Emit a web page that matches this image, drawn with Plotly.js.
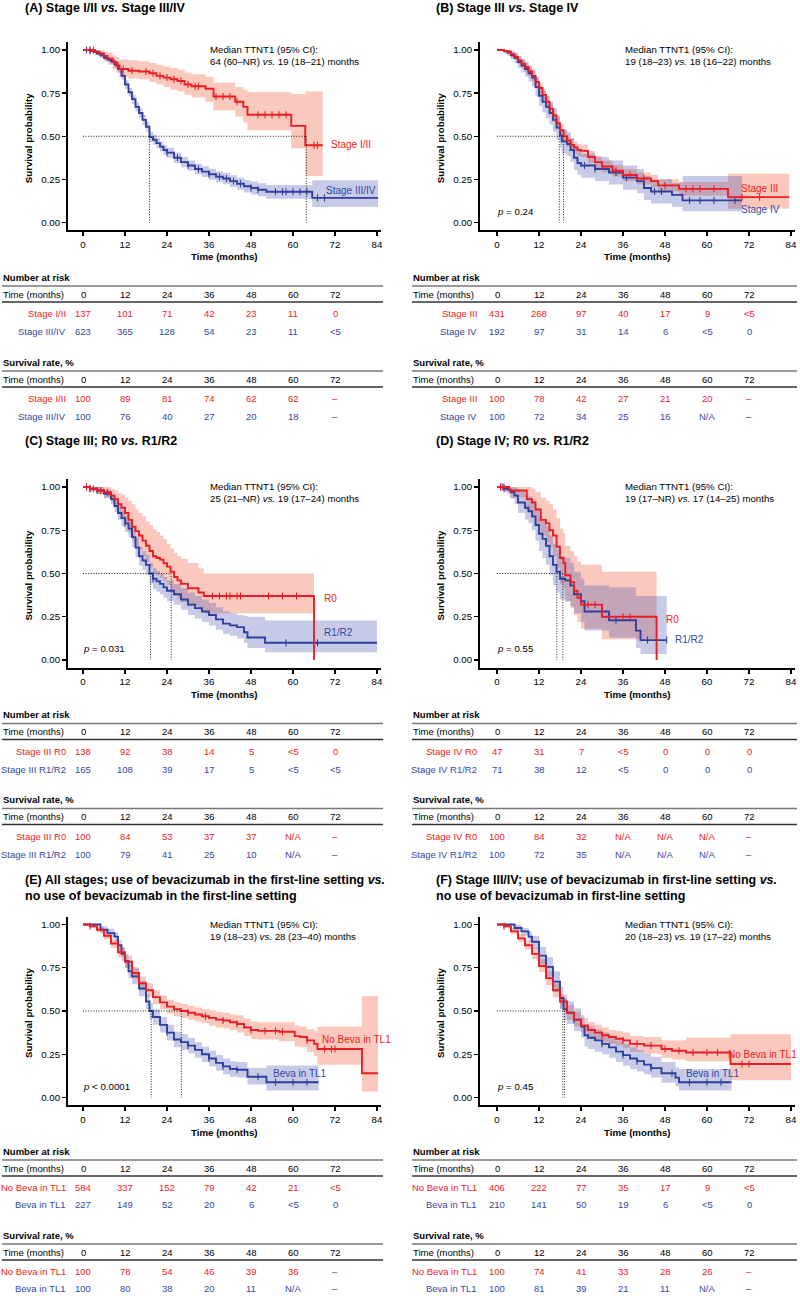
<!DOCTYPE html>
<html><head><meta charset="utf-8">
<script src="https://cdn.plot.ly/plotly-3.0.1.min.js"></script>
<style>html,body{margin:0;padding:0;background:#fff}#chart{width:800px;height:1296px}</style>
</head><body><div id="chart"></div>
<script>
// ---------------- DATA ----------------
const timeTicks = [0, 12, 24, 36, 48, 60, 72];

// Panel A
const A_red_t  = [0,3.4,4.7,6,7,8.5,9.5,10.4,13,16,19,21,23,25,27,29,31,35,37.3,43.5,45.8,47,59.5,63.5,68.5];
const A_red_s  = [1,.99,.98,.965,.95,.93,.91,.89,.88,.875,.865,.85,.84,.83,.82,.80,.79,.775,.73,.70,.67,.625,.56,.448,.448];
const A_red_lo = [1,.97,.955,.935,.915,.89,.87,.845,.835,.83,.815,.80,.785,.77,.76,.74,.725,.70,.65,.615,.58,.535,.43,.27,.27];
const A_red_hi = [1,1,1,.99,.985,.97,.96,.945,.94,.935,.925,.915,.905,.895,.885,.87,.86,.845,.81,.785,.77,.755,.745,.76,.76];
const A_red_cens = [2,3,10,11.5,14,18,20,22,24,26,28,30,32,33,38,40,42,44,50,52,54,56,58,66,67];
const A_blue_t  = [0,1,2,3,4,5,6,7,8,9,10,11,12,13,14,15,16,17,18,19,20,21,22,23,24,26,28,30,32,34,36,38,40,42,44,46,48,50,52.4,65.5,84.3];
const A_blue_s  = [1,1,.995,.99,.98,.97,.955,.945,.935,.915,.89,.85,.80,.755,.715,.67,.635,.595,.555,.495,.48,.46,.44,.42,.405,.375,.35,.33,.31,.295,.28,.265,.255,.24,.225,.21,.20,.19,.178,.143,.143];
const A_blue_lo = [1,1,.99,.982,.97,.958,.942,.93,.918,.896,.869,.827,.776,.73,.689,.643,.607,.566,.526,.466,.451,.431,.411,.391,.376,.345,.32,.30,.28,.264,.248,.233,.222,.206,.19,.174,.163,.152,.138,.09,.09];
const A_blue_hi = [1,1,1,.998,.99,.982,.968,.96,.952,.934,.911,.873,.824,.78,.741,.697,.663,.624,.584,.524,.509,.489,.469,.449,.434,.405,.38,.36,.34,.326,.312,.297,.288,.274,.26,.246,.237,.228,.218,.245,.245];
const A_blue_cens = [1,2,24,27,30,33,36,39,41,43,45,48,50,55,57,58,60,62,64,67,69];
const A_medians = [63.8, 19.0];
const A_risk_red = [137,101,71,42,23,11,0];
const A_risk_blue = [623,365,128,54,23,11,'<5'];
const A_surv_red = [100,89,81,74,62,62,'–'];
const A_surv_blue = [100,76,40,27,20,18,'–'];

// Panel B
const B_red_t  = [0,2,3,4,5,6,7,8,9,10,11,12,13,14,15,16,17,18,19,20,21,22,23,24,26,28,30,33,36,40,44,46,52,66,83.5];
const B_red_s  = [1,.995,.99,.975,.96,.94,.92,.90,.875,.85,.815,.78,.74,.70,.66,.62,.575,.535,.50,.475,.45,.435,.42,.415,.38,.35,.325,.30,.275,.255,.24,.215,.195,.147,.147];
const B_red_lo = [1,.985,.975,.96,.94,.918,.897,.875,.848,.82,.784,.748,.707,.667,.626,.585,.54,.50,.465,.44,.415,.40,.385,.38,.345,.315,.29,.265,.24,.22,.205,.18,.155,.08,.08];
const B_red_hi = [1,1,1,.99,.978,.962,.943,.925,.902,.88,.846,.812,.773,.733,.694,.655,.61,.57,.535,.51,.485,.47,.455,.45,.415,.385,.36,.335,.31,.29,.275,.25,.235,.283,.283];
const B_red_cens = [30,34,38,42,48,54,56,58,62,70,75];
const B_blue_t  = [0,2,3,4,5,6,7,8,9,10,11,12,13,14,15,16,17,18,18.5,20,21,22,23,24,28,32,36,40,42,44,50,53,70];
const B_blue_s  = [1,.995,.985,.97,.955,.93,.91,.89,.865,.84,.785,.735,.70,.67,.635,.595,.55,.505,.47,.455,.42,.375,.345,.33,.31,.29,.26,.24,.20,.18,.16,.128,.128];
const B_blue_lo = [1,.98,.965,.945,.925,.895,.87,.845,.817,.79,.73,.675,.638,.605,.568,.525,.48,.435,.40,.385,.35,.305,.275,.26,.24,.22,.19,.17,.13,.11,.09,.065,.065];
const B_blue_hi = [1,1,1,.995,.985,.965,.95,.935,.913,.89,.84,.795,.762,.735,.702,.665,.62,.575,.54,.525,.49,.445,.415,.40,.38,.36,.33,.31,.27,.25,.23,.27,.27];
const B_blue_cens = [25,28,34,37,45,47,55,58,62,68];
const B_medians = [17.8, 19.0];
const B_risk_red = [431,268,97,40,17,9,'<5'];
const B_risk_blue = [192,97,31,14,6,'<5',0];
const B_surv_red = [100,78,42,27,21,20,'–'];
const B_surv_blue = [100,72,34,25,16,'N/A','–'];

// Panel C
const C_red_t  = [0,2,4,6,8,9,10,11,12,13,14,15,16,17,18,19,20,21,22,23,24,25,26,27,28,30,33,34.5,66];
const C_red_s  = [1,.99,.98,.97,.95,.93,.90,.88,.85,.81,.77,.745,.72,.69,.66,.63,.60,.59,.58,.56,.54,.51,.48,.46,.44,.415,.39,.37,0];
const C_red_lo = [1,.98,.96,.94,.91,.88,.84,.815,.78,.735,.69,.66,.635,.60,.565,.535,.50,.49,.475,.455,.435,.405,.375,.355,.335,.31,.29,.27,.27];
const C_red_hi = [1,1,1,1,.99,.98,.965,.955,.94,.92,.90,.87,.85,.83,.80,.78,.755,.74,.72,.70,.67,.645,.62,.60,.585,.56,.53,.50,.50];
const C_red_cens = [1,2,3,5,7,37,39,41,42,44,45,53,57,61];
const C_blue_t  = [0,2,4,6,8,9,10,11,12,13,14,15,16,17,18,19,20,21,22,23,24,26,28,30,32,34,36,38,40,42,44,46,47,52,84];
const C_blue_s  = [1,.99,.98,.96,.93,.89,.85,.82,.79,.76,.71,.65,.60,.575,.55,.50,.47,.455,.44,.42,.40,.38,.35,.32,.30,.28,.26,.235,.21,.20,.19,.16,.13,.10,.10];
const C_blue_lo = [1,.975,.96,.935,.90,.855,.81,.775,.74,.71,.655,.595,.545,.52,.49,.44,.41,.395,.38,.36,.34,.32,.29,.26,.24,.22,.20,.175,.15,.14,.125,.10,.07,.045,.045];
const C_blue_hi = [1,1,1,.985,.96,.925,.89,.865,.84,.81,.765,.705,.655,.63,.61,.56,.53,.515,.50,.48,.46,.44,.415,.39,.37,.35,.33,.305,.28,.27,.26,.255,.25,.228,.228];
const C_blue_cens = [1,2,4,12,20,58,67];
const C_medians = [25.2, 19.3];
const C_risk_red = [138,92,38,14,5,'<5',0];
const C_risk_blue = [165,108,39,17,5,'<5','<5'];
const C_surv_red = [100,84,53,37,37,'N/A','–'];
const C_surv_blue = [100,79,41,25,10,'N/A','–'];

// Panel D
const D_red_t  = [0,3.5,8.5,10,11,12.5,14,15,16,17,18,19,19.5,21,22,23,24,30,45.6];
const D_red_s  = [1,.98,.93,.91,.87,.81,.79,.75,.72,.655,.59,.56,.49,.45,.40,.36,.32,.25,0];
const D_red_lo = [1,.94,.86,.82,.77,.72,.68,.65,.60,.53,.44,.41,.34,.30,.26,.22,.18,.12,.12];
const D_red_hi = [1,1,1,.99,.97,.94,.92,.90,.87,.82,.76,.73,.66,.63,.60,.57,.55,.51,.51];
const D_red_cens = [1,2,26,28,36,38];
const D_blue_t  = [0,2,3,4,5,6,8,9,10,11,12,13,14,15,16,17,18,19.5,21,22,24,25,32,39.7,41,48.5];
const D_blue_s  = [1,.99,.985,.97,.95,.91,.88,.86,.83,.78,.73,.70,.66,.60,.55,.51,.47,.46,.43,.38,.34,.28,.23,.17,.115,.115];
const D_blue_lo = [1,.97,.96,.93,.90,.85,.81,.79,.75,.69,.63,.59,.55,.49,.43,.39,.35,.34,.31,.27,.22,.17,.13,.07,.035,.035];
const D_blue_hi = [1,1,1,1,.995,.98,.96,.945,.92,.875,.835,.81,.775,.72,.67,.64,.60,.59,.56,.51,.47,.43,.42,.37,.37,.37];
const D_blue_cens = [1,1.5,2,34,43,48.5];
const D_medians = [18.8, 17.1];
const D_risk_red = [47,31,7,'<5',0,0,0];
const D_risk_blue = [71,38,12,'<5',0,0,0];
const D_surv_red = [100,84,32,'N/A','N/A','N/A','–'];
const D_surv_blue = [100,72,35,'N/A','N/A','N/A','–'];

// Panel E
const E_red_t  = [0,2,4,6,8,10,12,14,16,18,20,22,24,26,28,30,32,34,36,38,40,42,44,46,48,50,56,60.5,62,64,66,67,79.7,84.3];
const E_red_s  = [1,.99,.97,.935,.89,.84,.785,.72,.66,.62,.58,.55,.525,.51,.50,.49,.48,.47,.46,.45,.445,.435,.425,.405,.39,.385,.38,.355,.35,.33,.31,.28,.14,.14];
const E_red_lo = [1,.98,.955,.915,.865,.81,.75,.685,.62,.58,.54,.51,.485,.47,.46,.45,.44,.43,.415,.405,.40,.39,.375,.355,.34,.335,.325,.295,.29,.265,.24,.19,.035,.035];
const E_red_hi = [1,1,.985,.955,.915,.87,.82,.755,.70,.66,.62,.59,.565,.55,.54,.53,.52,.51,.505,.495,.49,.48,.475,.455,.44,.435,.435,.415,.41,.395,.385,.41,.585,.585];
const E_red_cens = [2,30,35,40,44,48,52,55,57,64,69,71,72];
const E_blue_t  = [0,3,5,7,9,10,11,12,13,14,16,18,19,20,22,24,26,28,30,32,34,36,38,40,42,44,47,52.4,67.3];
const E_blue_s  = [1,1,.97,.95,.93,.88,.83,.79,.73,.70,.63,.555,.50,.465,.42,.375,.335,.32,.30,.275,.25,.225,.20,.18,.165,.16,.12,.088,.088];
const E_blue_lo = [1,1,.95,.925,.90,.845,.79,.75,.69,.655,.585,.51,.455,.42,.375,.33,.29,.275,.255,.23,.205,.18,.155,.135,.12,.115,.075,.04,.04];
const E_blue_hi = [1,1,.99,.975,.955,.91,.865,.83,.77,.745,.675,.60,.545,.51,.465,.42,.38,.365,.345,.32,.295,.27,.245,.225,.21,.205,.17,.185,.185];
const E_blue_cens = [24,30,36,40,44,50,55,60,64];
const E_medians = [28.1, 19.5];
const E_risk_red = [584,337,152,79,42,21,'<5'];
const E_risk_blue = [227,149,52,20,6,'<5',0];
const E_surv_red = [100,78,54,46,39,36,'–'];
const E_surv_blue = [100,80,38,20,11,'N/A','–'];

// Panel F
const F_red_t  = [0,2,4,6,8,10,12,14,16,18,20,22,24,26,28,30,32,34,36,38,42,46,47,50,54,66.7,84];
const F_red_s  = [1,.99,.96,.92,.88,.83,.76,.69,.62,.555,.49,.45,.415,.39,.375,.36,.35,.34,.33,.31,.30,.30,.28,.27,.26,.194,.194];
const F_red_lo = [1,.98,.945,.90,.855,.80,.725,.65,.58,.515,.45,.41,.375,.35,.335,.32,.31,.30,.285,.265,.255,.25,.23,.22,.21,.10,.10];
const F_red_hi = [1,1,.98,.945,.905,.865,.80,.73,.66,.595,.535,.495,.46,.435,.42,.405,.39,.385,.375,.355,.35,.35,.33,.33,.345,.365,.365];
const F_red_cens = [2,30,36,40,44,48,52,56,60,63,70,72];
const F_blue_t  = [0,3,5,7,9,10,12,14,16,18,19,20,22,24,25,26,28,30,32,34,36,38,40,42,44,47,51,52,67];
const F_blue_s  = [1,1,.98,.96,.93,.90,.82,.755,.67,.575,.51,.49,.45,.41,.36,.345,.33,.31,.29,.265,.245,.225,.21,.19,.17,.14,.115,.088,.088];
const F_blue_lo = [1,1,.96,.935,.90,.86,.77,.70,.61,.51,.445,.425,.385,.345,.295,.28,.265,.25,.23,.205,.185,.165,.15,.135,.115,.085,.065,.04,.04];
const F_blue_hi = [1,1,1,.98,.96,.935,.87,.81,.73,.64,.575,.555,.515,.475,.425,.41,.395,.375,.355,.33,.31,.29,.275,.255,.235,.205,.175,.165,.165];
const F_blue_cens = [22,30,36,40,44,50,55,60,64];
const F_medians = [19.3, 18.8];
const F_risk_red = [406,222,77,35,17,9,'<5'];
const F_risk_blue = [210,141,50,19,6,'<5',0];
const F_surv_red = [100,74,41,33,28,26,'–'];
const F_surv_blue = [100,81,39,21,11,'N/A','–'];

// ---------------- STYLE / LAYOUT ----------------
const FONT = "'Liberation Sans', Arial, Helvetica, sans-serif";
const W = 800, H = 1296;
const RED = '#ec1c24', BLUE = '#2f419c', BLUE_TXT = '#3548a3';
const RED_BAND = 'rgba(243,125,95,0.42)', BLUE_BAND = 'rgba(70,82,178,0.30)';

const cols = [
  {axis:68, x0:83, x84:377, right:381, left:2, lineR:383, labR:67, med:208.5, title:24},
  {axis:480, x0:497, x84:791, right:795, left:412, lineR:797, labR:478, med:623.5, title:435}
];
const rows = [
  {y1:50, y0:222.5, title:[7.5], tshift:0, rgap:18},
  {y1:487, y0:660, title:[441], tshift:0, rgap:18},
  {y1:924.5, y0:1097.5, title:[880, 896], tshift:-1, rgap:17}
];

const panels = [
  {title:['(A) Stage I/II <i>vs.</i> Stage III/IV'],
   red:{t:A_red_t,s:A_red_s,lo:A_red_lo,hi:A_red_hi,c:A_red_cens},
   blue:{t:A_blue_t,s:A_blue_s,lo:A_blue_lo,hi:A_blue_hi,c:A_blue_cens},
   med:A_medians, medTxt:'64 (60–NR) <i>vs.</i> 19 (18–21) months', p:null,
   names:['Stage I/II','Stage III/IV'], lab:[[70.6,0.45],[69.1,0.186]],
   risk:[A_risk_red,A_risk_blue], surv:[A_surv_red,A_surv_blue]},
  {title:['(B) Stage III <i>vs.</i> Stage IV'],
   red:{t:B_red_t,s:B_red_s,lo:B_red_lo,hi:B_red_hi,c:B_red_cens},
   blue:{t:B_blue_t,s:B_blue_s,lo:B_blue_lo,hi:B_blue_hi,c:B_blue_cens},
   med:B_medians, medTxt:'19 (18–23) <i>vs.</i> 18 (16–22) months', p:'= 0.24',
   names:['Stage III','Stage IV'], lab:[[69.4,0.20],[69.4,0.075]],
   risk:[B_risk_red,B_risk_blue], surv:[B_surv_red,B_surv_blue]},
  {title:['(C) Stage III; R0 <i>vs.</i> R1/R2'],
   red:{t:C_red_t,s:C_red_s,lo:C_red_lo,hi:C_red_hi,c:C_red_cens},
   blue:{t:C_blue_t,s:C_blue_s,lo:C_blue_lo,hi:C_blue_hi,c:C_blue_cens},
   med:C_medians, medTxt:'25 (21–NR) <i>vs.</i> 19 (17–24) months', p:'= 0.031',
   names:['R0','R1/R2'], lab:[[68.5,0.357],[68.5,0.158]],
   rowNames:['Stage III R0','Stage III R1/R2'],
   risk:[C_risk_red,C_risk_blue], surv:[C_surv_red,C_surv_blue]},
  {title:['(D) Stage IV; R0 <i>vs.</i> R1/R2'],
   red:{t:D_red_t,s:D_red_s,lo:D_red_lo,hi:D_red_hi,c:D_red_cens},
   blue:{t:D_blue_t,s:D_blue_s,lo:D_blue_lo,hi:D_blue_hi,c:D_blue_cens},
   med:D_medians, medTxt:'19 (17–NR) <i>vs.</i> 17 (14–25) months', p:'= 0.55',
   names:['R0','R1/R2'], lab:[[48,0.235],[50.7,0.116]],
   rowNames:['Stage IV R0','Stage IV R1/R2'],
   risk:[D_risk_red,D_risk_blue], surv:[D_surv_red,D_surv_blue]},
  {title:['(E) All stages; use of bevacizumab in the first-line setting <i>vs.</i>','no use of bevacizumab in the first-line setting'],
   red:{t:E_red_t,s:E_red_s,lo:E_red_lo,hi:E_red_hi,c:E_red_cens},
   blue:{t:E_blue_t,s:E_blue_s,lo:E_blue_lo,hi:E_blue_hi,c:E_blue_cens},
   med:E_medians, medTxt:'19 (18–23) <i>vs.</i> 28 (23–40) months', p:'< 0.0001',
   names:['No Beva in TL1','Beva in TL1'], lab:[[68.1,0.337],[54.1,0.14]],
   risk:[E_risk_red,E_risk_blue], surv:[E_surv_red,E_surv_blue]},
  {title:['(F) Stage III/IV; use of bevacizumab in first-line setting <i>vs.</i>','no use of bevacizumab in first-line setting'],
   red:{t:F_red_t,s:F_red_s,lo:F_red_lo,hi:F_red_hi,c:F_red_cens},
   blue:{t:F_blue_t,s:F_blue_s,lo:F_blue_lo,hi:F_blue_hi,c:F_blue_cens},
   med:F_medians, medTxt:'20 (18–23) <i>vs.</i> 19 (17–22) months', p:'= 0.45',
   names:['No Beva in TL1','Beva in TL1'], lab:[[65.8,0.25],[53.8,0.14]],
   risk:[F_risk_red,F_risk_blue], surv:[F_surv_red,F_surv_blue]}
];

function stepAt(S, x){ let v = S.s[0]; for(let i=0;i<S.t.length;i++){ if(S.t[i] <= x) v = S.s[i]; } return v; }
const esc = v => String(v).replace(/</g,'&lt;');
const yp = v => 1 - v/H;

const data = [], shapes = [], ann = [];
const layout = {width:W, height:H, margin:{l:0,r:0,t:0,b:0}, showlegend:false,
  paper_bgcolor:'#fff', plot_bgcolor:'rgba(0,0,0,0)', font:{family:FONT, size:10, color:'#000'}};

function note(o){ ann.push(Object.assign({showarrow:false, xanchor:'center', yanchor:'middle', borderpad:0}, o)); }

panels.forEach((P,k)=>{
  const col = cols[k%2], row = rows[Math.floor(k/2)];
  const sfx = k ? String(k+1) : '';
  const xa = 'x'+sfx, ya = 'y'+sfx;
  const ppm = (col.x84-col.x0)/84, ppu = row.y0-row.y1;
  const px2x = px => (px-col.x0)/ppm;
  const axCommon = {ticks:'outside', ticklen:4, tickwidth:1.4, tickcolor:'#000', showline:true, linewidth:2,
    linecolor:'#000', showgrid:false, zeroline:false, fixedrange:true, tickfont:{family:FONT,size:9.7,color:'#000'}};
  layout['xaxis'+sfx] = Object.assign({domain:[col.axis/W, col.right/W], range:[px2x(col.axis), px2x(col.right)],
    anchor:ya, tickvals:[0,12,24,36,48,60,72,84]}, axCommon);
  layout['yaxis'+sfx] = Object.assign({domain:[1-(row.y0+7.5)/H, 1-(row.y1-8)/H], range:[-7.5/ppu, 1+8/ppu],
    anchor:xa, tickvals:[0,0.25,0.5,0.75,1], tickformat:'.2f'}, axCommon);

  // bands
  [[P.red,RED_BAND],[P.blue,BLUE_BAND]].forEach(([S,fc])=>{
    data.push({x:S.t, y:S.lo, xaxis:xa, yaxis:ya, mode:'lines', line:{width:0, shape:'hv'}, hoverinfo:'skip'});
    data.push({x:S.t, y:S.hi, xaxis:xa, yaxis:ya, mode:'lines', line:{width:0, shape:'hv'}, fill:'tonexty', fillcolor:fc, hoverinfo:'skip'});
  });
  // curves
  [[P.blue,BLUE],[P.red,RED]].forEach(([S,c])=>{
    data.push({x:S.t, y:S.s, xaxis:xa, yaxis:ya, mode:'lines', line:{color:c, width:1.9, shape:'hv'}, hoverinfo:'skip'});
    data.push({x:S.c, y:S.c.map(v=>stepAt(S,v)), xaxis:xa, yaxis:ya, mode:'markers',
      marker:{symbol:'line-ns-open', size:5, color:c, line:{color:c, width:1.1}}, hoverinfo:'skip'});
  });
  // median lines
  const dl = {color:'#222', width:1, dash:'1px,1.6px'};
  shapes.push({type:'line', xref:xa, yref:ya, x0:0, x1:Math.max(...P.med), y0:0.5, y1:0.5, line:dl});
  P.med.forEach(m=>shapes.push({type:'line', xref:xa, yref:ya, x0:m, x1:m, y0:0.5, y1:0, line:dl}));

  // titles
  P.title.forEach((t,i)=>note({xref:'paper', yref:'paper', x:col.title/W, y:yp(row.title[i]), xanchor:'left',
    text:'<b>'+t+'</b>', font:{family:FONT, size:12.5, color:'#000'}}));
  // axis titles
  note({xref:'paper', yref:'paper', x:(col.axis-40)/W, y:yp((row.y1+row.y0)/2+2), textangle:-90,
    text:'<b>Survival probability</b>', font:{family:FONT, size:9.7}});
  note({xref:'paper', yref:'paper', x:(col.axis+col.right)/2/W, y:yp(row.y0+34.5),
    text:'<b>Time (months)</b>', font:{family:FONT, size:9.7}});
  // median text
  note({xref:'paper', yref:'paper', x:col.med/W, y:yp(row.y1), xanchor:'left', text:'Median TTNT1 (95% CI):', font:{family:FONT,size:9.7}});
  note({xref:'paper', yref:'paper', x:col.med/W, y:yp(row.y1+11.7), xanchor:'left', text:P.medTxt, font:{family:FONT,size:9.7}});
  // p value
  if(P.p) note({xref:xa, yref:ya, x:-0.3, y:0.065, xanchor:'left', text:'<i>p</i> '+esc(P.p), font:{family:FONT,size:9.7}});
  // curve labels
  note({xref:xa, yref:ya, x:P.lab[0][0], y:P.lab[0][1], xanchor:'left', text:P.names[0], font:{family:FONT,size:10,color:RED}});
  note({xref:xa, yref:ya, x:P.lab[1][0], y:P.lab[1][1], xanchor:'left', text:P.names[1], font:{family:FONT,size:10,color:BLUE_TXT}});

  // tables
  const rn = P.rowNames || P.names;
  const b = row.y0 + row.tshift;
  const blocks = [[54.5,'Number at risk',P.risk],[139.5,'Survival rate, %',P.surv]];
  blocks.forEach(([off,head,vals],bi)=>{
    const o = off - (bi ? (18-row.rgap) : 0);
    note({xref:'paper', yref:'paper', x:col.left/W, y:yp(b+o), xanchor:'left', text:'<b>'+head+'</b>', font:{family:FONT,size:9.5}});
    shapes.push({type:'line', xref:'paper', yref:'paper', x0:col.left/W, x1:col.lineR/W, y0:yp(b+o+9), y1:yp(b+o+9), line:{color:'#777', width:1.6}});
    shapes.push({type:'line', xref:'paper', yref:'paper', x0:col.left/W, x1:col.lineR/W, y0:yp(b+o+25), y1:yp(b+o+25), line:{color:'#333', width:1.6}});
    note({xref:'paper', yref:'paper', x:col.left/W, y:yp(b+o+17), xanchor:'left', text:'Time (months)', font:{family:FONT,size:9.5}});
    timeTicks.forEach(tt=>note({xref:xa, yref:'paper', x:tt, y:yp(b+o+17), text:String(tt), font:{family:FONT,size:9.5}}));
    [[0,RED],[1,BLUE_TXT]].forEach(([r,c])=>{
      const yy = yp(b+o+36.5+row.rgap*r);
      note({xref:'paper', yref:'paper', x:col.labR/W, y:yy, xanchor:'right', text:rn[r], font:{family:FONT,size:9.5,color:c}});
      vals[r].forEach((v,i)=>note({xref:xa, yref:'paper', x:timeTicks[i], y:yy, text:esc(v), font:{family:FONT,size:9.5,color:c}}));
    });
  });
});

layout.shapes = shapes;
layout.annotations = ann;
Plotly.newPlot('chart', data, layout, {displayModeBar:false, staticPlot:true});
</script></body></html>
